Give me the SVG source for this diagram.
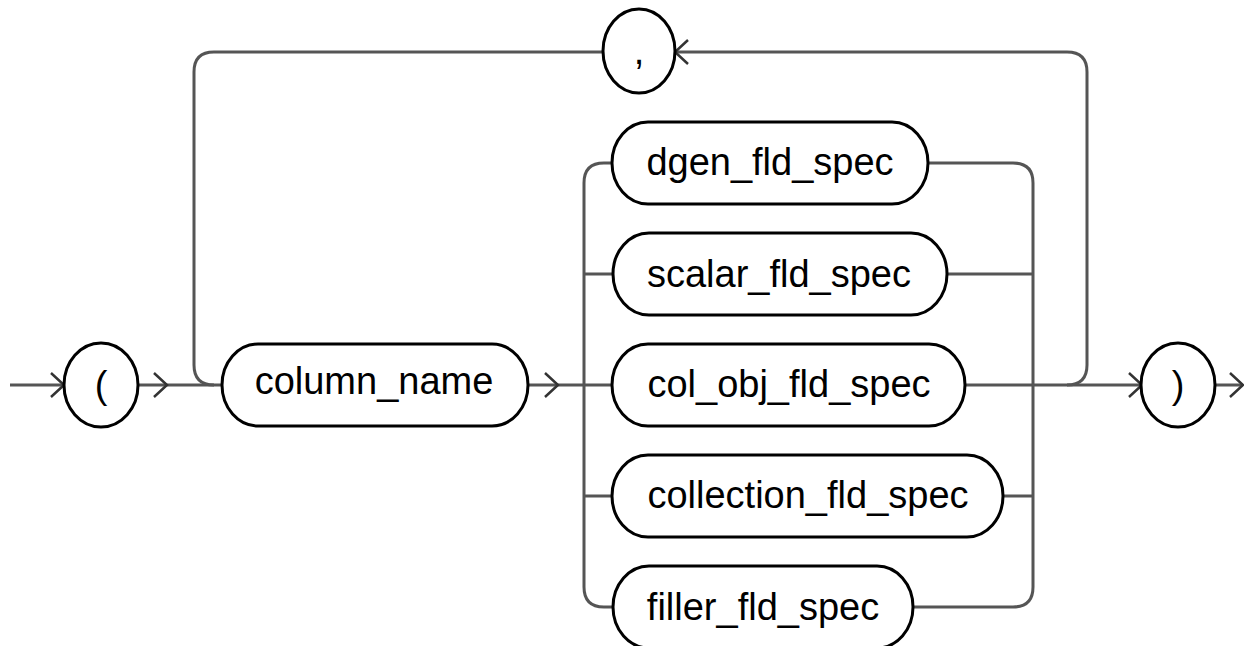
<svg xmlns="http://www.w3.org/2000/svg" width="1244" height="646" viewBox="0 0 1244 646">
<style>
.box{fill:#fff;stroke:#000;stroke-width:3}
.lbl{font-family:"Liberation Sans",Arial,sans-serif;font-size:38px;fill:#000;text-anchor:middle}
.ln{fill:none;stroke:#555;stroke-width:3}
.ar{fill:none;stroke:#333;stroke-width:2.5}
</style>
<g id="connectors">
<path class="ln" d="M10 385 H64 M138 385 H222 M528 385 H612 M965 385 H1142 M1215 385 H1243"/>
<path class="ln" d="M214 385 Q194 385 194 365 V72 Q194 52 214 52 H603 M675 52 H1067 Q1087 52 1087 72 V365 Q1087 385 1067 385"/>
<path class="ln" d="M612 163 H604 Q584 163 584 183 V587 Q584 607 604 607 H613 M584 274 H613 M584 496 H612"/>
<path class="ln" d="M928 163 H1013 Q1033 163 1033 183 V587 Q1033 607 1013 607 H913 M947 274 H1033 M1003 496 H1033"/>
<path class="ar" d="M51 373 L64 385 L51 397 M154 373 L167 385 L154 397 M545 373 L558 385 L545 397 M1129 373 L1142 385 L1129 397 M1230 373 L1243 385 L1230 397 M688 40 L675 52 L688 64"/>
</g>
<g id="lparen"><ellipse class="box" cx="101" cy="385" rx="37" ry="42"/><text class="lbl" x="101" y="398">(</text></g>
<g id="comma"><ellipse class="box" cx="639" cy="51" rx="36" ry="42"/><text class="lbl" x="639" y="64">,</text></g>
<g id="column_name"><rect class="box" x="222" y="344" width="306" height="82" rx="36" ry="41"/><text class="lbl" x="374" y="394">column_name</text></g>
<g id="dgen_fld_spec"><rect class="box" x="612" y="122" width="316" height="82" rx="36" ry="41"/><text class="lbl" x="770" y="175">dgen_fld_spec</text></g>
<g id="scalar_fld_spec"><rect class="box" x="613" y="233" width="334" height="82" rx="36" ry="41"/><text class="lbl" x="779" y="287">scalar_fld_spec</text></g>
<g id="col_obj_fld_spec"><rect class="box" x="612" y="344" width="353" height="82" rx="36" ry="41"/><text class="lbl" x="789" y="397">col_obj_fld_spec</text></g>
<g id="collection_fld_spec"><rect class="box" x="612" y="455" width="391" height="82" rx="36" ry="41"/><text class="lbl" x="808" y="508">collection_fld_spec</text></g>
<g id="filler_fld_spec"><rect class="box" x="613" y="566" width="300" height="82" rx="36" ry="41"/><text class="lbl" x="763" y="620">filler_fld_spec</text></g>
<g id="rparen"><ellipse class="box" cx="1178" cy="385" rx="37" ry="42"/><text class="lbl" x="1178" y="398">)</text></g>
</svg>
